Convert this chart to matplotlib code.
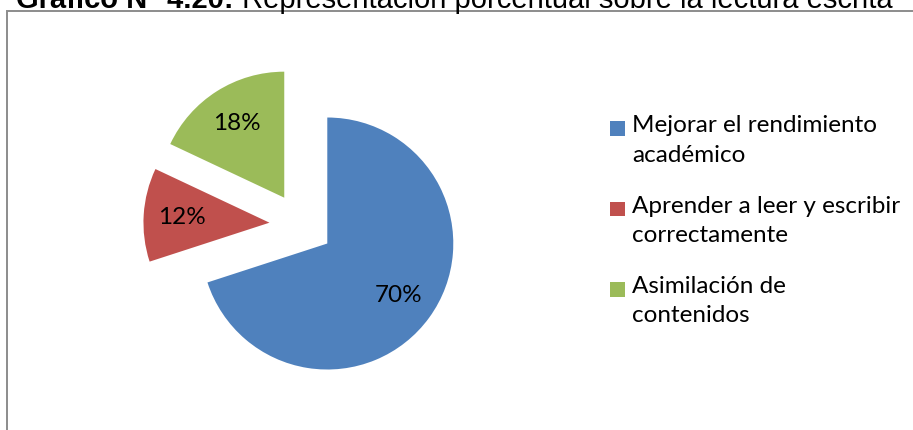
import matplotlib
matplotlib.use("Agg")
import matplotlib.pyplot as plt
from matplotlib.patches import Rectangle

categories = ["Mejorar el rendimiento\nacadémico",
              "Aprender a leer y escribir\ncorrectamente",
              "Asimilación de\ncontenidos"]
values = [70, 12, 18]
colors = ["#4F81BD", "#C0504D", "#9BBB59"]
title_bold = "Gráfico N° 4.20:"
title_rest = " Representación porcentual sobre la lectura escrita"

W, H = 913, 430
fig = plt.figure(figsize=(W / 100, H / 100), dpi=100)
fig.patch.set_facecolor("white")

# chart frame
frame = Rectangle((6.5 / W, -0.1), 1.2, 1.1 - 11.5 / H, transform=fig.transFigure,
                  fill=False, edgecolor="#8c8c8c", linewidth=1.4)
fig.patches.append(frame)

ax = fig.add_axes([0, 0, 1, 1])
font = "Lato"
fs = 17.5
R = 126
wedges, texts, autotexts = ax.pie(
    values, colors=colors, startangle=90, counterclock=False,
    radius=R, center=(301.4, 205.3), explode=[0.254 * R] * 3,
    autopct=lambda p: f"{p:.0f}%", pctdistance=0.7,
    textprops=dict(fontsize=fs, family=font, color="black"),
    wedgeprops=dict(linewidth=0), frame=True)
ax.set_xlim(0, W)
ax.set_ylim(0, H)
ax.set_aspect("equal")
ax.axis("off")

# legend (manual)
entry_y = [128, 209, 289]
for lab, col, yc in zip(categories, colors, entry_y):
    fig.patches.append(Rectangle((610 / W, 1 - (yc + 7.5) / H), 15 / W, 15 / H,
                                 transform=fig.transFigure, facecolor=col, edgecolor="none"))
    fig.text(632 / W, 1 - (yc - 13) / H, lab, family=font, fontsize=fs,
             va="top", ha="left", linespacing=1.5)

# title (cut off at top)
tfs = 21
ty = 1 - 8 / H
t1 = fig.text(16 / W, ty, title_bold, family="Liberation Sans", fontweight="bold",
              fontsize=tfs, va="baseline", ha="left")
fig.canvas.draw()
bb = t1.get_window_extent()
fig.text(bb.x1 / W, ty, title_rest, family="Liberation Sans",
         fontsize=tfs, va="baseline", ha="left")

fig.savefig("out.png", dpi=100)
